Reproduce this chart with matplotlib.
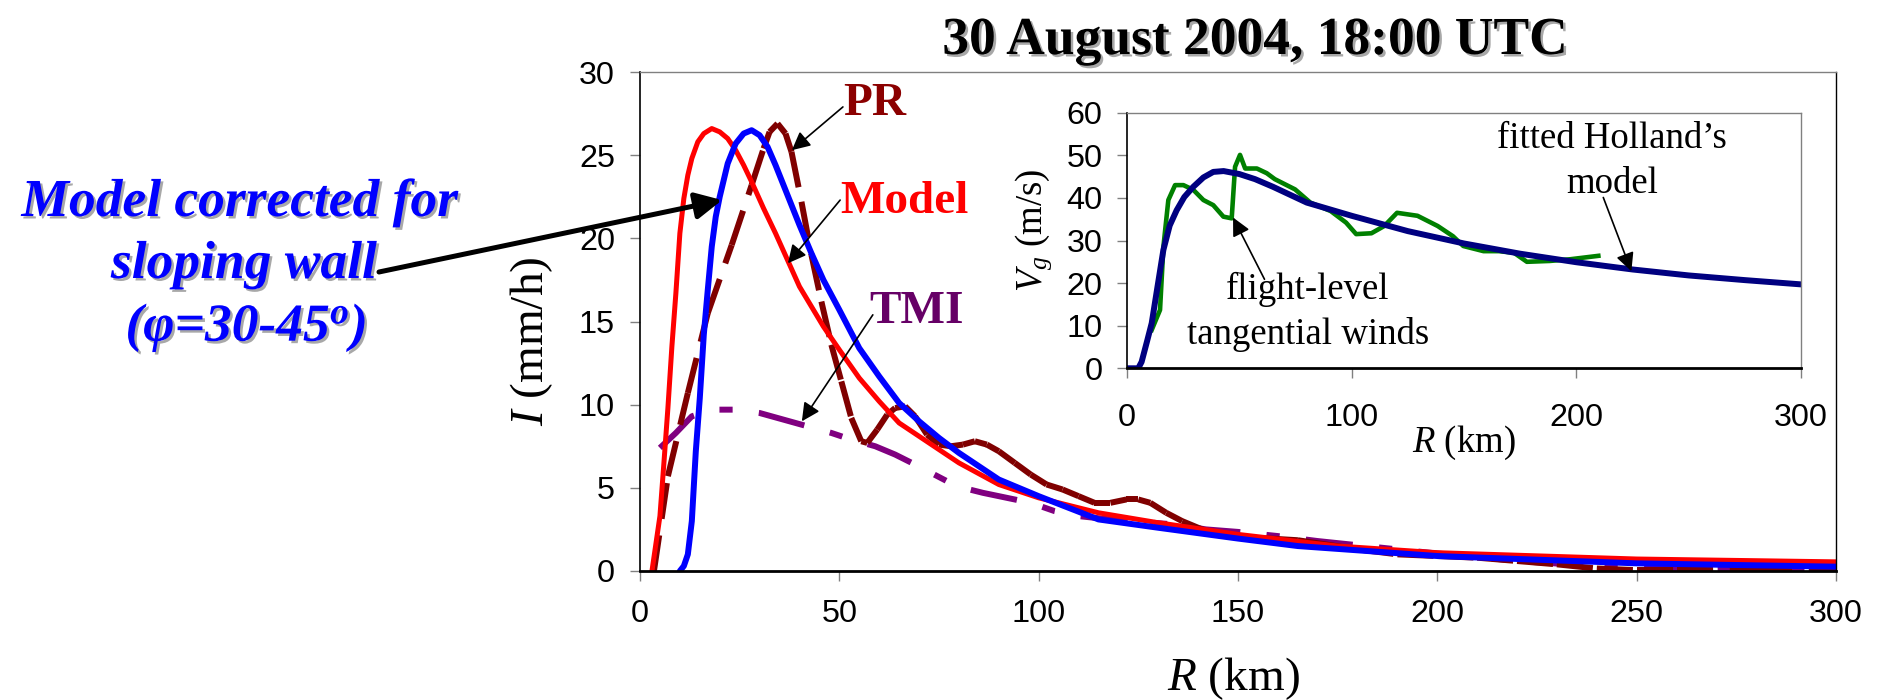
import matplotlib
matplotlib.use("Agg")
import matplotlib.pyplot as plt
import matplotlib.patheffects as pe
from matplotlib.collections import LineCollection
import numpy as np

# Rain-rate profiles I(R) in mm/h, R in km
model_r = [3, 5, 6, 7, 8, 9, 10, 11, 12, 13, 14.5, 16, 18, 20, 22, 24, 26, 28, 31, 34,
           37, 40, 43, 46, 50, 55, 60, 65, 70, 75, 80, 90, 100, 115, 130, 150, 175, 200, 250, 300]
model_i = [0, 3.3, 6.5, 9.8, 13.5, 16.7, 20.3, 22.4, 23.8, 24.8, 25.8, 26.3, 26.6, 26.4, 26.0, 25.3,
           24.4, 23.4, 21.8, 20.3, 18.7, 17.1, 15.9, 14.7, 13.3, 11.6, 10.2, 8.9, 8.1, 7.3, 6.5,
           5.2, 4.4, 3.5, 2.9, 2.2, 1.5, 1.1, 0.72, 0.55]

sloped_r = [10, 11, 12, 13, 14, 15, 16, 17, 18, 19, 20, 22, 24, 26, 28, 30, 32, 34, 36, 38, 40,
            43, 46, 50, 55, 60, 65, 70, 75, 80, 90, 100, 115, 130, 150, 165, 200, 250, 300]
sloped_i = [0, 0.3, 1.0, 3.0, 7.2, 10.4, 14.2, 16.9, 19.5, 21.3, 22.5, 24.5, 25.7, 26.3, 26.5, 26.2,
            25.5, 24.4, 23.2, 22.0, 20.8, 19.1, 17.5, 15.7, 13.4, 11.7, 10.1, 9.0, 8.0, 7.1, 5.5,
            4.5, 3.1, 2.6, 1.95, 1.5, 0.9, 0.46, 0.26]

pr_r = [3.5, 7, 12, 17, 23, 28, 31, 32.5, 34.5, 36.5, 38, 40.5, 43, 45.5, 48, 50.5, 53, 55.5, 57,
        59.5, 62, 64, 66.5, 69, 72, 75, 78, 81, 84, 87, 90, 94, 98, 102, 106, 110, 114, 118, 122,
        125, 128, 132, 136, 140, 143, 147, 152, 158, 165, 172, 180, 190, 200, 210, 220, 230, 240,
        250, 260, 280, 300]
pr_i = [0, 5.7, 10.7, 15.5, 19.6, 23.2, 25.4, 26.4, 26.9, 26.3, 25.2, 22.2, 19.0, 16.2, 13.6, 11.4,
        9.2, 7.8, 7.7, 8.5, 9.4, 9.8, 9.9, 9.3, 8.2, 7.6, 7.5, 7.6, 7.8, 7.6, 7.2, 6.5, 5.8, 5.2,
        4.9, 4.5, 4.1, 4.1, 4.3, 4.3, 4.1, 3.5, 3.0, 2.6, 2.3, 2.1, 2.0, 1.95, 1.85, 1.6, 1.3, 1.0,
        0.9, 0.8, 0.6, 0.4, 0.15, 0.05, 0.05, 0.05, 0.05]

tmi_r = [5, 9, 13, 18, 24, 30, 36, 42, 48, 53, 59, 64, 69, 73, 77, 81, 86, 92, 98, 104, 110, 118,
         126, 134, 142, 150, 160, 170, 180, 190, 200, 210, 220, 230, 240, 255, 270, 285, 300]
tmi_i = [7.4, 8.3, 9.3, 9.7, 9.7, 9.5, 9.1, 8.7, 8.3, 7.9, 7.5, 7.0, 6.4, 5.9, 5.4, 5.0, 4.7, 4.4,
         4.1, 3.6, 3.3, 3.1, 2.95, 2.8, 2.5, 2.35, 2.1, 1.8, 1.55, 1.3, 1.05, 0.85, 0.6, 0.45, 0.3,
         0.15, 0.1, 0.08, 0.05]

# Tangential wind profiles Vg(R) in m/s
holland_r = [0, 5, 6.5, 9, 11, 13.5, 16.2, 19, 22.1, 25.5, 29.5, 34, 38.4, 43, 50, 57, 65, 80,
             100, 125, 150, 175, 200, 225, 250, 275, 300]
holland_v = [0, 0, 1.5, 6.5, 10.6, 18.9, 27.8, 33.5, 37.1, 40.2, 42.6, 44.8, 46.1, 46.3, 45.6,
             44.4, 42.6, 38.9, 35.8, 32.2, 29.3, 26.9, 24.9, 23.2, 21.8, 20.7, 19.7]

flight_r = [11, 14.7, 16.2, 18.4, 21.4, 25.1, 29.5, 34, 38.4, 42.9, 46.6, 48.1, 50.3, 52.6, 57.8,
            62.2, 65.8, 74.8, 81.6, 90.7, 97.5, 102, 108.8, 114.5, 120.2, 129.3, 138.3, 145.1,
            149.7, 158.7, 165.5, 172.3, 178, 188.2, 197.3, 209.8]
flight_v = [9.0, 13.7, 28.5, 39.5, 43.0, 43.0, 41.9, 39.5, 38.3, 35.6, 35.2, 47.3, 50.1, 46.9,
            46.9, 45.8, 44.4, 42.0, 38.9, 36.9, 34.2, 31.5, 31.7, 33.4, 36.5, 35.8, 33.4, 31.0,
            28.7, 27.5, 27.5, 27.1, 25.0, 25.2, 25.6, 26.4]

main_xticks = [0, 50, 100, 150, 200, 250, 300]
main_yticks = [0, 5, 10, 15, 20, 25, 30]
inset_xticks = [0, 100, 200, 300]
inset_yticks = [0, 10, 20, 30, 40, 50, 60]

plt.rcParams["font.family"] = ["Liberation Sans", "DejaVu Sans"]
plt.rcParams["mathtext.fontset"] = "custom"
plt.rcParams["mathtext.rm"] = "Liberation Serif"
plt.rcParams["mathtext.it"] = "Liberation Serif:italic"
plt.rcParams["mathtext.bf"] = "Liberation Serif:italic:bold"
plt.rcParams["lines.scale_dashes"] = False

SERIF = "Liberation Serif"
shadow = [pe.SimplePatchShadow(offset=(1.8, -1.8), shadow_rgbFace="#a8a8a8", alpha=1.0), pe.Normal()]

fig = plt.figure(figsize=(18.81, 7.0), dpi=100)
ax = fig.add_axes([640 / 1881, 1 - 571 / 700, 1196 / 1881, 499 / 700])


def style_axes(a, xticks, yticks, xpad, ypad, right_color):
    a.set_xticks(xticks)
    a.set_yticks(yticks)
    a.set_xlim(xticks[0], xticks[-1])
    a.set_ylim(yticks[0], yticks[-1])
    a.tick_params(direction="out", length=7.5, width=1.0, color="#808080", labelsize=23.3)
    a.tick_params(axis="x", pad=xpad)
    a.tick_params(axis="y", pad=ypad)
    a.spines["top"].set_color("#808080")
    a.spines["top"].set_linewidth(1.0)
    a.spines["right"].set_color(right_color)
    a.spines["right"].set_linewidth(1.0)
    a.spines["left"].set_linewidth(1.2)
    a.spines["bottom"].set_linewidth(2.0)


style_axes(ax, main_xticks, main_yticks, 13.0, 10.5, "black")

# TMI: dash-dot
ax.plot(tmi_r, tmi_i, color="#800080", lw=4.3, dashes=(34, 19, 9.5, 19), solid_capstyle="butt")

# PR: dash pattern restarts on every segment, so only the steep parts break up
pr_pts = np.column_stack([pr_r, pr_i])
pr_segs = np.stack([pr_pts[:-1], pr_pts[1:]], axis=1)
ax.add_collection(LineCollection(pr_segs, colors="#800000", linewidths=4.3,
                                 linestyles=[(0, (26, 12))], capstyle="butt"))

ax.plot(model_r, model_i, color="#FF0000", lw=3.6, solid_capstyle="round")
ax.plot(sloped_r, sloped_i, color="#0000FF", lw=4.3, solid_capstyle="round")

ax.set_xlabel("$R$ (km)", family=SERIF, fontsize=34, va="center")
ax.xaxis.set_label_coords(0.496, -0.216)
ax.set_ylabel("$I$ (mm/h)", family=SERIF, fontsize=34, va="center")
ax.yaxis.set_label_coords(-0.091, 0.46)

label_kw = dict(family=SERIF, fontweight="bold", fontsize=34, ha="left", va="baseline")
arrow_kw = dict(arrowstyle="-|>,head_length=0.5,head_width=0.25", mutation_scale=22,
                color="black", lw=1.2, shrinkA=0, shrinkB=0)
ax.text(50.9, 27.4, "PR", color="#8B0000", **label_kw)
ax.annotate("", xy=(38.1, 25.3), xytext=(50.9, 27.9), arrowprops=arrow_kw)
ax.text(50.2, 21.5, "Model", color="#FF0000", **label_kw)
ax.annotate("", xy=(37.1, 18.5), xytext=(50.2, 22.3), arrowprops=arrow_kw)
ax.text(57.4, 14.9, "TMI", color="#660066", **label_kw)
ax.annotate("", xy=(40.6, 9.0), xytext=(58.4, 15.4), arrowprops=arrow_kw)

# sloping-wall note with a heavy arrow into the plot
note_kw = dict(family=SERIF, fontweight="bold", fontstyle="italic", fontsize=38.5,
               color="#0000FF", ha="center", va="baseline", path_effects=shadow)
fig.text(240 / 1881, 1 - 216 / 700, "Model corrected for", **note_kw)
fig.text(244 / 1881, 1 - 278 / 700, "sloping wall", **note_kw)
fig.text(246 / 1881, 1 - 341 / 700, "(φ=30-45$^{\\mathbf{o}}$)", **note_kw)
ax.annotate("", xy=(20.6, 22.3), xytext=(379, 700 - 272), textcoords="figure pixels",
            annotation_clip=False,
            arrowprops=dict(arrowstyle="-|>,head_length=0.8,head_width=0.4", mutation_scale=20,
                            color="black", lw=3.6, shrinkA=0, shrinkB=0))

fig.text(1255 / 1881, 1 - 54 / 700, "30 August 2004, 18:00 UTC", family=SERIF,
         fontweight="bold", fontsize=38.5, ha="center", va="baseline", path_effects=shadow)

# inset: gradient wind profile
ax2 = fig.add_axes([1127 / 1881, 1 - 368.3 / 700, 674 / 1881, 255.6 / 700])
style_axes(ax2, inset_xticks, inset_yticks, 17.5, 10, "#808080")
ax2.plot(flight_r, flight_v, color="#008000", lw=3.3, solid_joinstyle="round")
ax2.plot(holland_r, holland_v, color="#000080", lw=4.3, solid_capstyle="round")

ax2.set_xlabel("$R$ (km)", family=SERIF, fontsize=26.5, va="center")
ax2.xaxis.set_label_coords(0.5, -0.29)
ax2.set_ylabel("$V_g$ (m/s)", family=SERIF, fontsize=26.5, va="center")
ax2.yaxis.set_label_coords(-0.139, 0.54)

inset_kw = dict(family=SERIF, fontsize=26.5, ha="center", va="baseline")
ax2.text(216, 51.8, "fitted Holland\u2019s", **inset_kw)
ax2.text(216, 41.2, "model", **inset_kw)
ax2.annotate("", xy=(224.5, 22.8), xytext=(212, 40.1), arrowprops=arrow_kw)
ax2.text(80.5, 16.2, "flight-level", **inset_kw)
ax2.text(80.5, 5.6, "tangential winds", **inset_kw)
ax2.annotate("", xy=(47.2, 35.4), xytext=(61.2, 20.9), arrowprops=arrow_kw)

fig.savefig("out.png", dpi=100)
